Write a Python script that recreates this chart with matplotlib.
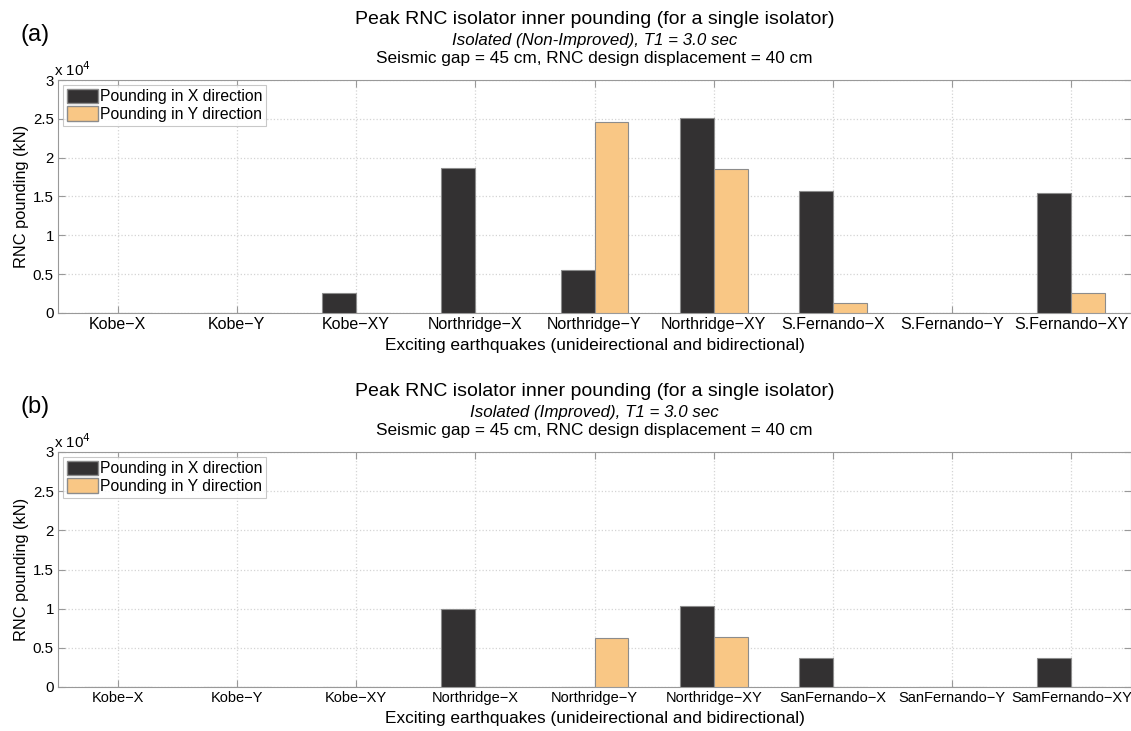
import numpy as np
import matplotlib.pyplot as plt
from matplotlib.ticker import FuncFormatter
from matplotlib.patches import Patch

plt.rcParams['font.family'] = ['Liberation Sans', 'DejaVu Sans']

# ---- data (kN) ----
labels_a = ['Kobe\u2212X', 'Kobe\u2212Y', 'Kobe\u2212XY', 'Northridge\u2212X', 'Northridge\u2212Y',
            'Northridge\u2212XY', 'S.Fernando\u2212X', 'S.Fernando\u2212Y', 'S.Fernando\u2212XY']
pound_x_a = [0, 0, 2600, 18700, 5500, 25100, 15700, 0, 15400]
pound_y_a = [0, 0, 0, 0, 24600, 18600, 1250, 0, 2600]

labels_b = ['Kobe\u2212X', 'Kobe\u2212Y', 'Kobe\u2212XY', 'Northridge\u2212X', 'Northridge\u2212Y',
            'Northridge\u2212XY', 'SanFernando\u2212X', 'SanFernando\u2212Y', 'SamFernando\u2212XY']
pound_x_b = [0, 0, 0, 10000, 0, 10300, 3700, 0, 3700]
pound_y_b = [0, 0, 0, 0, 6200, 6400, 0, 0, 0]

subtitle_a = 'Isolated (Non-Improved), T1 = 3.0 sec'
subtitle_b = 'Isolated (Improved), T1 = 3.0 sec'

DARK = '#333132'
ORANGE = '#f9c785'
EDGE = '#8c8c8c'

W, H = 1131, 731
fig = plt.figure(figsize=(W / 100, H / 100), dpi=100)


def draw_panel(top_px, bottom_px, labels, px, py, subtitle, tag, tick_fs):
    ax = fig.add_axes([58 / W, 1 - bottom_px / H, (1131 - 58) / W, (bottom_px - top_px) / H])
    x = np.arange(1, len(labels) + 1)
    bw = 0.285
    ax.bar(x - bw / 2, px, width=bw, color=DARK, edgecolor=EDGE, linewidth=0.8, zorder=3)
    ax.bar(x + bw / 2, py, width=bw, color=ORANGE, edgecolor=EDGE, linewidth=0.8, zorder=3)
    ax.set_xlim(0.5, len(labels) + 0.5)
    ax.set_ylim(0, 30000)
    ax.set_xticks(x)
    ax.set_xticklabels(labels, fontsize=tick_fs)
    ax.set_yticks(np.arange(0, 30001, 5000))
    ax.yaxis.set_major_formatter(FuncFormatter(lambda v, p: '%g' % (v / 1e4)))
    ax.tick_params(axis='y', labelsize=10.8)
    ax.tick_params(direction='in', length=5, color='#999999', top=True, right=True, pad=3)
    ax.grid(True, linestyle=':', color='#d4d4d4', linewidth=0.9, zorder=0)
    for s in ax.spines.values():
        s.set_color('#999999')
    ax.set_ylabel('RNC pounding (kN)', fontsize=11.8, labelpad=3)
    ax.set_xlabel('Exciting earthquakes (unideirectional and bidirectional)', fontsize=12.4,
                  labelpad=4)
    ax.text(-0.004, 1.005, 'x 10$^4$', transform=ax.transAxes, fontsize=10.8, ha='left',
            va='bottom')

    handles = [Patch(facecolor=DARK, edgecolor=EDGE, label='Pounding in X direction'),
               Patch(facecolor=ORANGE, edgecolor=EDGE, label='Pounding in Y direction')]
    leg = ax.legend(handles=handles, loc='upper left', fontsize=11.3, frameon=True, fancybox=False,
                    borderpad=0.25, labelspacing=0.12, handlelength=2.0, handleheight=1.05,
                    handletextpad=0.1, borderaxespad=0.3)
    leg.get_frame().set_edgecolor('#bbbbbb')
    leg.get_frame().set_linewidth(0.8)

    cx = (58 + 1131) / 2 / W
    l1 = top_px - 60
    fig.text(cx, 1 - l1 / H, 'Peak RNC isolator inner pounding (for a single isolator)',
             ha='center', va='center', fontsize=14)
    fig.text(cx, 1 - (l1 + 20) / H, subtitle, ha='center', va='center', fontsize=12.2,
             style='italic')
    fig.text(cx, 1 - (l1 + 39) / H, 'Seismic gap = 45 cm, RNC design displacement = 40 cm',
             ha='center', va='center', fontsize=12.4)
    fig.text(20 / W, 1 - (l1 + 15) / H, tag, ha='left', va='center', fontsize=17)
    return ax


draw_panel(80, 313, labels_a, pound_x_a, pound_y_a, subtitle_a, '(a)', 11.5)
draw_panel(452, 687, labels_b, pound_x_b, pound_y_b, subtitle_b, '(b)', 10.5)

fig.savefig('out.png', dpi=100)
